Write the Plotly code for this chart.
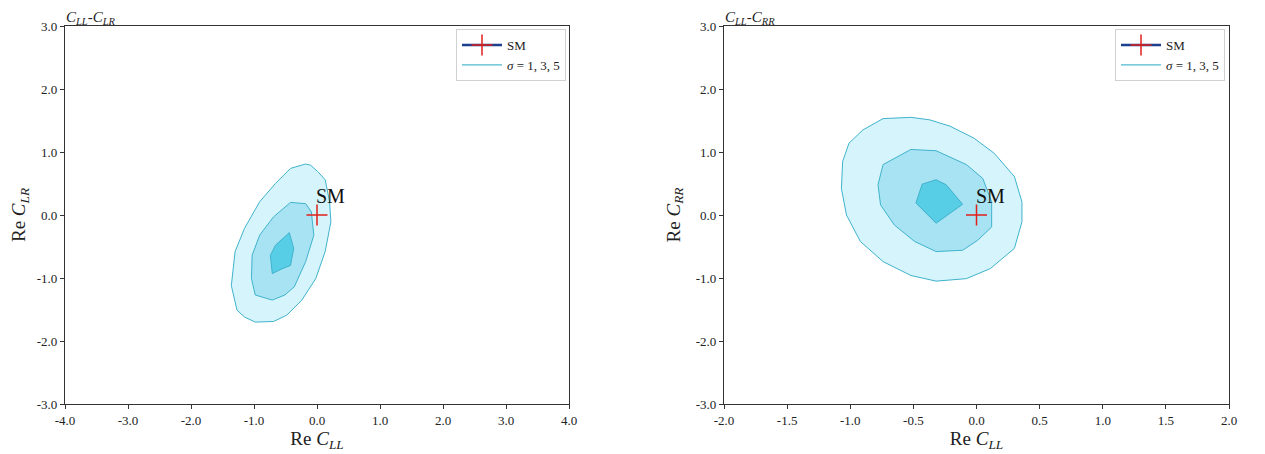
import plotly.graph_objects as go

# contour outlines (data coords)
# left panel: C_LL vs C_LR
LR_OUTER_X = [-0.18, -0.42, -0.66, -0.91, -1.15, -1.30, -1.36, -1.27, -1.15, -0.98, -0.69, -0.48,
              -0.24, -0.02, 0.13, 0.22, 0.20, 0.13, 0.01, -0.10]
LR_OUTER_Y = [0.81, 0.74, 0.50, 0.21, -0.21, -0.58, -1.12, -1.51, -1.62, -1.70, -1.69, -1.59,
              -1.35, -1.01, -0.58, -0.11, 0.21, 0.56, 0.69, 0.79]
LR_MID_X = [-0.42, -0.18, -0.09, -0.05, -0.18, -0.36, -0.51, -0.71, -0.98, -1.04, -1.03, -0.91, -0.69, -0.51]
LR_MID_Y = [0.20, 0.18, 0.05, -0.32, -0.74, -1.14, -1.27, -1.35, -1.27, -1.01, -0.64, -0.32, -0.03, 0.13]
LR_INNER_X = [-0.44, -0.37, -0.42, -0.57, -0.71, -0.74, -0.66, -0.54]
LR_INNER_Y = [-0.28, -0.53, -0.80, -0.86, -0.93, -0.64, -0.48, -0.37]

# right panel: C_LL vs C_RR
RR_OUTER_X = [-0.52, -0.74, -0.90, -1.01, -1.06, -1.07, -1.03, -0.92, -0.74, -0.52, -0.32, -0.08,
              0.11, 0.30, 0.36, 0.36, 0.30, 0.14, -0.02, -0.21, -0.37]
RR_OUTER_Y = [1.55, 1.53, 1.35, 1.14, 0.85, 0.42, 0.00, -0.42, -0.74, -0.96, -1.05, -1.01,
              -0.85, -0.53, -0.11, 0.21, 0.61, 0.98, 1.22, 1.41, 1.51]
RR_MID_X = [-0.52, -0.32, -0.08, 0.05, 0.12, 0.12, 0.01, -0.11, -0.32, -0.49, -0.65, -0.76, -0.78, -0.74]
RR_MID_Y = [1.04, 1.02, 0.80, 0.58, 0.21, -0.19, -0.40, -0.56, -0.58, -0.42, -0.16, 0.16, 0.48, 0.80]
RR_INNER_X = [-0.43, -0.32, -0.24, -0.11, -0.32, -0.48]
RR_INNER_Y = [0.49, 0.56, 0.48, 0.17, -0.13, 0.19]

SM_POINT = (0.0, 0.0)

LEFT_XTICKS = [-4, -3, -2, -1, 0, 1, 2, 3, 4]
LEFT_XTEXT = ["-4.0", "-3.0", "-2.0", "-1.0", "0.0", "1.0", "2.0", "3.0", "4.0"]
RIGHT_XTICKS = [-2, -1.5, -1, -0.5, 0, 0.5, 1, 1.5, 2]
RIGHT_XTEXT = ["-2.0", "-1.5", "-1.0", "-0.5", "0.0", "0.5", "1.0", "1.5", "2.0"]
YTICKS = [-3, -2, -1, 0, 1, 2, 3]
YTEXT = ["-3.0", "-2.0", "-1.0", "0.0", "1.0", "2.0", "3.0"]

FONT = "Liberation Serif"
FILLS = ["#d6f4fb", "#a8e3f3", "#58cde6"]
EDGE = "#3fb3cc"
# page body has an 8px margin, so the figure is made smaller and positions shifted
OFF = 8
W, H = 1265 - OFF, 454 - OFF


def px(v):
    return (v - OFF) / W


def py(v):
    return 1 - (v - OFF) / H


def closed(xs, ys):
    return list(xs) + [xs[0]], list(ys) + [ys[0]]


def add_panel(fig, contours, xa, ya, legend):
    for (xs, ys), fill in zip(contours, FILLS):
        cx, cy = closed(xs, ys)
        fig.add_trace(go.Scatter(
            x=cx, y=cy, mode="lines", fill="toself", fillcolor=fill,
            line=dict(color=EDGE, width=1), hoverinfo="skip", showlegend=False,
            xaxis=xa, yaxis=ya))
    fig.add_trace(go.Scatter(
        x=[SM_POINT[0]], y=[SM_POINT[1]], mode="lines+markers", name="SM",
        line=dict(color="#1b3f8e", width=2.5),
        marker=dict(symbol="cross-thin", size=15, color="#e0201b",
                    line=dict(color="#e0201b", width=1.5)),
        xaxis=xa, yaxis=ya, legend=legend))
    fig.add_trace(go.Scatter(
        x=[None], y=[None], mode="lines", name="<i>σ</i> = 1, 3, 5",
        line=dict(color="#4fb8d2", width=1.2),
        xaxis=xa, yaxis=ya, legend=legend))


def axis_style(domain, rng, tickvals, ticktext, title, anchor, xaxis=True):
    return dict(
        domain=domain, range=rng, tickvals=tickvals, ticktext=ticktext,
        ticks="outside", ticklen=4, tickwidth=1, tickcolor="#333",
        showline=True, linecolor="#333", linewidth=1.3, mirror=True,
        showgrid=False, zeroline=False, anchor=anchor, automargin=False,
        tickfont=dict(family=FONT, size=13, color="#222"),
        title=dict(text=title, font=dict(family=FONT, size=19, color="#222"),
                   standoff=4 if xaxis else 10),
    )


def main():
    fig = go.Figure()
    add_panel(fig, [(LR_OUTER_X, LR_OUTER_Y), (LR_MID_X, LR_MID_Y), (LR_INNER_X, LR_INNER_Y)],
              "x", "y", "legend")
    add_panel(fig, [(RR_OUTER_X, RR_OUTER_Y), (RR_MID_X, RR_MID_Y), (RR_INNER_X, RR_INNER_Y)],
              "x2", "y2", "legend2")

    ydom = [py(404), py(26)]
    leg = dict(font=dict(family=FONT, size=13, color="#222"), bgcolor="white",
               bordercolor="#d0d0d0", borderwidth=1, xanchor="right", yanchor="top",
               y=py(29), tracegroupgap=0, itemwidth=40)

    fig.update_layout(
        width=W, height=H, margin=dict(l=0, r=0, t=0, b=0),
        paper_bgcolor="white", plot_bgcolor="white",
        xaxis=axis_style([px(65), px(569)], [-4, 4], LEFT_XTICKS, LEFT_XTEXT,
                         "Re <i>C<sub>LL</sub></i>", "y"),
        yaxis=axis_style(ydom, [-3, 3], YTICKS, YTEXT,
                         "Re <i>C<sub>LR</sub></i>", "x", xaxis=False),
        xaxis2=axis_style([px(724), px(1229)], [-2, 2], RIGHT_XTICKS, RIGHT_XTEXT,
                          "Re <i>C<sub>LL</sub></i>", "y2"),
        yaxis2=axis_style(ydom, [-3, 3], YTICKS, YTEXT,
                          "Re <i>C<sub>RR</sub></i>", "x2", xaxis=False),
        legend=dict(leg, x=px(566)),
        legend2=dict(leg, x=px(1225)),
        showlegend=True,
    )

    # panel titles and SM labels
    for xpos, text in [(65, "<i>C<sub>LL</sub></i>-<i>C<sub>LR</sub></i>"),
                       (724, "<i>C<sub>LL</sub></i>-<i>C<sub>RR</sub></i>")]:
        fig.add_annotation(x=px(xpos), y=1.0, xref="paper", yref="paper",
                           xanchor="left", yanchor="top", showarrow=False, text=text,
                           borderpad=0, font=dict(family=FONT, size=15, color="#222"))
    for xa, ya, sx in [("x", "y", 0.21), ("x2", "y2", 0.11)]:
        fig.add_annotation(x=sx, y=0.30, xref=xa, yref=ya, showarrow=False, text="SM",
                           font=dict(family=FONT, size=20, color="#111"))

    fig.write_html("out.html")


if __name__ == "__main__":
    main()
